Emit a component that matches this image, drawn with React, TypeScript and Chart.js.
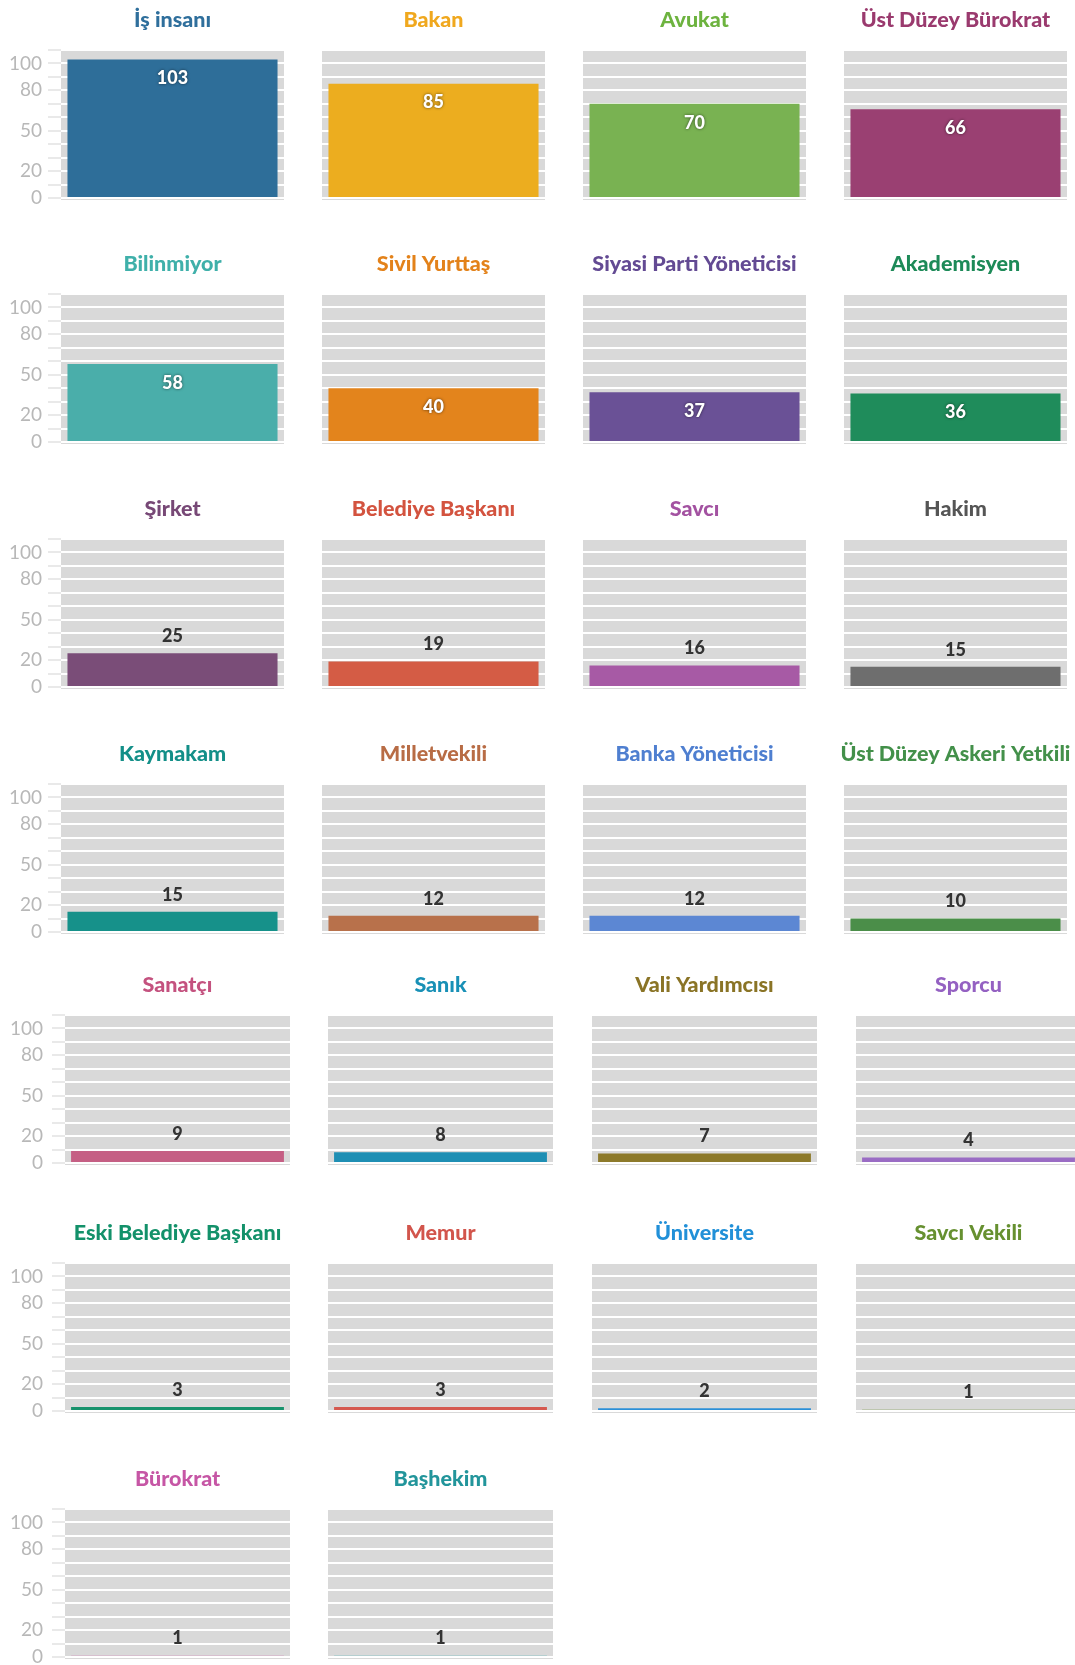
import React, { useEffect, useRef } from "react";
import { Chart, registerables } from "chart.js";

Chart.register(...registerables);

// ---------- data ----------
const categories = [
  "İş insanı", "Bakan", "Avukat", "Üst Düzey Bürokrat",
  "Bilinmiyor", "Sivil Yurttaş", "Siyasi Parti Yöneticisi", "Akademisyen",
  "Şirket", "Belediye Başkanı", "Savcı", "Hakim",
  "Kaymakam", "Milletvekili", "Banka Yöneticisi", "Üst Düzey Askeri Yetkili",
  "Sanatçı", "Sanık", "Vali Yardımcısı", "Sporcu",
  "Eski Belediye Başkanı", "Memur", "Üniversite", "Savcı Vekili",
  "Bürokrat", "Başhekim",
];
const values = [103, 85, 70, 66, 58, 40, 37, 36, 25, 19, 16, 15, 15, 12, 12, 10, 9, 8, 7, 4, 3, 3, 2, 1, 1, 1];
const barColors = [
  "#2e6e99", "#ecad1f", "#79b252", "#9a4072",
  "#4aaeaa", "#e3841c", "#6a5196", "#1f8c5b",
  "#7a4d78", "#d45c45", "#a75aa5", "#6e6e6e",
  "#16918a", "#b8714b", "#5c87d3", "#4b8e49",
  "#c55f84", "#1f8fb4", "#8d7a2b", "#9a6cc4",
  "#17926c", "#d5594f", "#2b8fd7", "#6b8f37",
  "#d27ab4", "#4cb5b9",
];
const titleColors = [
  "#2f6f9c", "#f0a81e", "#6db33f", "#9a3a6e",
  "#3fb0aa", "#e3821a", "#634a93", "#1d8a58",
  "#774876", "#d3533f", "#a352a1", "#555555",
  "#138f88", "#b86c45", "#4f7fd0", "#43904a",
  "#c4527f", "#1890b6", "#8a7426", "#9461c2",
  "#13916a", "#d2554c", "#2190d8", "#669030",
  "#c656a5", "#22959b",
];
const tickLabels = [0, 20, 50, 80, 100];
const yMin = 0;
const yMax = 110;
const yStep = 10;

// ---------- layout ----------
const ROW_ZERO = [198, 442, 687, 932, 1163, 1411, 1657];
const COLS_A = [61, 322, 583, 844];
const COLS_B = [65, 328, 592, 856];
const W_A = 223;
const W_B = 225;
const PLOT_H = 148;
const PAD_L = 72;
const PAD_R = 34;
const PAD_T = 60;
const PAD_B = 8;

const bgPlugin = {
  id: "panelBg",
  beforeDraw(chart: any) {
    const { ctx, chartArea } = chart;
    ctx.save();
    ctx.fillStyle = "#d9d9d9";
    ctx.fillRect(chartArea.left, chartArea.top, chartArea.right - chartArea.left, chartArea.bottom - chartArea.top + 2);
    ctx.restore();
  },
};

function Panel({ index }: { index: number }) {
  const ref = useRef<HTMLCanvasElement | null>(null);
  const row = Math.floor(index / 4);
  const col = index % 4;
  const late = row >= 4;
  const plotLeft = (late ? COLS_B : COLS_A)[col];
  const plotW = late ? W_B : W_A;
  const zero = ROW_ZERO[row];
  const first = col === 0;
  const cw = PAD_L + plotW + PAD_R;
  const ch = PAD_T + PLOT_H + PAD_B;
  const left = plotLeft - PAD_L;
  const top = zero - PLOT_H - PAD_T;

  useEffect(() => {
    if (!ref.current) return;
    const title = categories[index];
    const tColor = titleColors[index];
    const value = values[index];
    const axisW = first ? plotLeft : 0;

    const overlay = {
      id: "overlay" + index,
      afterDatasetsDraw(chart: any) {
        const { ctx } = chart;
        const meta = chart.getDatasetMeta(0);
        const el = meta.data[0];
        if (!el) return;
        ctx.save();
        ctx.font = "900 18px Lato";
        ctx.textAlign = "center";
        ctx.textBaseline = "middle";
        if (value >= 30) {
          ctx.shadowColor = "rgba(0,0,0,0.6)";
          ctx.shadowBlur = 3;
          ctx.fillStyle = "#ffffff";
          ctx.fillText(String(value), el.x, el.y + 19);
        } else {
          ctx.fillStyle = "#333333";
          ctx.fillText(String(value), el.x, el.y - 17);
        }
        ctx.restore();
      },
      afterDraw(chart: any) {
        const { ctx, chartArea } = chart;
        ctx.save();
        ctx.font = "900 21.5px Lato";
        ctx.textAlign = "center";
        ctx.textBaseline = "alphabetic";
        ctx.fillStyle = tColor;
        ctx.fillText(title, (chartArea.left + chartArea.right) / 2, chartArea.top - 23.5);
        ctx.restore();
      },
    };

    const chart = new Chart(ref.current, {
      type: "bar",
      data: {
        labels: [title],
        datasets: [
          {
            data: [value],
            backgroundColor: barColors[index],
            borderWidth: 0,
            barPercentage: late ? 0.946 : 0.942,
            categoryPercentage: 1,
          },
        ],
      },
      options: {
        animation: false,
        responsive: false,
        events: [],
        layout: {
          padding: { left: PAD_L - axisW, right: PAD_R, top: PAD_T, bottom: PAD_B },
        },
        plugins: {
          legend: { display: false },
          tooltip: { enabled: false },
          title: { display: false },
        },
        scales: {
          x: { display: false, offset: true },
          y: {
            min: yMin,
            max: yMax,
            afterFit: (s: any) => {
              s.width = axisW;
              s.paddingTop = 0;
              s.paddingBottom = 0;
              s.paddingLeft = 0;
              s.paddingRight = 0;
            },
            ticks: {
              display: first,
              stepSize: yStep,
              autoSkip: false,
              padding: late ? 9 : 6,
              color: "#b8b8b8",
              font: { family: "Lato", size: 19 },
              callback: (v: any) => (tickLabels.includes(Number(v)) ? String(v) : ""),
            },
            grid: {
              color: "#ffffff",
              lineWidth: 2,
              drawTicks: first,
              tickLength: 13,
              tickColor: "#e2e2e2",
              tickWidth: 1.5,
            },
            border: { display: false },
          },
        },
      },
      plugins: [bgPlugin, overlay],
    });
    return () => chart.destroy();
  }, [index]);

  return (
    <canvas
      ref={ref}
      width={cw}
      height={ch}
      style={{ position: "absolute", left, top, width: cw, height: ch }}
    />
  );
}

export default function App() {
  useEffect(() => {
    document.body.style.margin = "0";
  }, []);
  return (
    <div style={{ position: "relative", width: 1075, height: 1665, overflow: "hidden", background: "#fff" }}>
      {categories.map((_, i) => (
        <Panel key={i} index={i} />
      ))}
    </div>
  );
}
